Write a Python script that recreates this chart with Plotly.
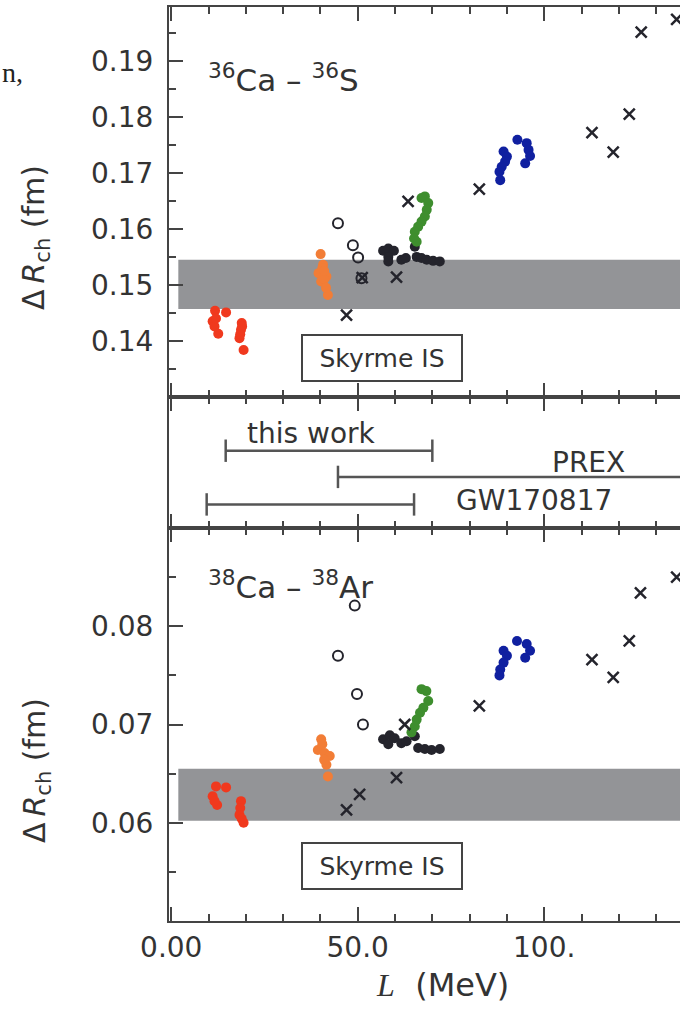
import plotly.graph_objects as go

# ---------------- data: top panel (36Ca - 36S) ----------------
top_red_L = [11.75, 14.7, 11.1, 11.6, 12.6, 12.0, 18.9, 18.7, 18.3, 19.4, 19.0, 18.5]
top_red_dR = [0.1454, 0.1451, 0.1435, 0.1426, 0.1413, 0.1440, 0.1432, 0.1420, 0.1405, 0.1384, 0.1426, 0.1412]
top_orange_L = [40.05, 40.7, 39.5, 41.6, 40.2, 42.0, 40.5, 41.0, 41.5, 41.0]
top_orange_dR = [0.1555, 0.1536, 0.1521, 0.1515, 0.1506, 0.1482, 0.1530, 0.1510, 0.1495, 0.1525]
top_open_L = [44.7, 48.7, 50.1, 51.0]
top_open_dR = [0.1610, 0.1571, 0.1549, 0.1512]
top_black_L = [56.8, 58.2, 59.7, 58.2, 58.2, 61.7, 62.9, 65.3, 65.8, 67.1, 68.5, 70.2, 72.0]
top_black_dR = [0.1561, 0.1565, 0.1561, 0.1550, 0.1542, 0.1545, 0.1548, 0.1568, 0.1550, 0.1548, 0.1545, 0.1543, 0.1542]
top_green_L = [68.0, 67.1, 68.9, 68.5, 68.0, 67.1, 66.2, 65.3, 65.1, 65.8]
top_green_dR = [0.1658, 0.1655, 0.1646, 0.1634, 0.1622, 0.1613, 0.1604, 0.1595, 0.1583, 0.1577]
top_blue_L = [89.1, 90.0, 89.5, 88.6, 88.0, 88.2, 92.8, 95.3, 95.8, 96.2, 94.9]
top_blue_dR = [0.1738, 0.1729, 0.1720, 0.1711, 0.1702, 0.1687, 0.1759, 0.1753, 0.1741, 0.1730, 0.1717]
top_cross_L = [47.0, 51.2, 60.4, 63.5, 82.6, 112.8, 118.5, 122.8, 126.0, 135.5]
top_cross_dR = [0.1446, 0.1513, 0.1514, 0.1649, 0.1671, 0.1772, 0.1737, 0.1805, 0.1951, 0.1974]
top_band = [0.1457, 0.1545]

# ---------------- data: bottom panel (38Ca - 38Ar) ----------------
bot_red_L = [12.0, 14.7, 11.1, 12.3, 11.6, 18.7, 18.5, 18.3, 19.4, 18.9]
bot_red_dR = [0.0637, 0.0636, 0.0627, 0.0618, 0.0622, 0.0622, 0.0615, 0.0608, 0.0600, 0.0604]
bot_orange_L = [40.2, 39.3, 41.1, 42.5, 41.6, 42.0, 40.5, 41.0]
bot_orange_dR = [0.0685, 0.0674, 0.0671, 0.0668, 0.0659, 0.0647, 0.0680, 0.0664]
bot_open_L = [49.2, 44.7, 49.8, 51.4]
bot_open_dR = [0.0821, 0.0770, 0.0731, 0.0700]
bot_black_L = [56.8, 58.6, 59.9, 58.2, 61.7, 63.1, 65.3, 66.2, 68.0, 69.8, 72.0]
bot_black_dR = [0.0685, 0.0689, 0.0686, 0.0680, 0.0681, 0.0683, 0.0688, 0.0676, 0.0675, 0.0674, 0.0675]
bot_green_L = [67.1, 68.4, 68.9, 67.6, 66.7, 65.8, 65.3, 64.4]
bot_green_dR = [0.0736, 0.0734, 0.0724, 0.0717, 0.0712, 0.0705, 0.0698, 0.0692]
bot_blue_L = [89.1, 90.0, 89.1, 88.2, 88.0, 92.7, 95.3, 96.2, 94.9]
bot_blue_dR = [0.0775, 0.0770, 0.0763, 0.0756, 0.0750, 0.0785, 0.0782, 0.0775, 0.0768]
bot_cross_L = [47.0, 50.5, 60.4, 62.6, 82.6, 112.8, 118.5, 122.8, 125.8, 135.5]
bot_cross_dR = [0.0613, 0.0629, 0.0646, 0.0700, 0.0719, 0.0766, 0.0748, 0.0785, 0.0834, 0.0850]
bot_band = [0.0602, 0.0655]
band_L_start = 1.9

# ---------------- data: middle panel (L constraints) ----------------
constraint_names = ["this work", "PREX", "GW170817"]
constraint_lo = [14.6, 44.7, 9.5]
constraint_hi = [70.0, 150.0, 65.1]
constraint_row = [0.59, 0.39, 0.18]
constraint_label_L = [37.5, 111.8, 97.2]
constraint_label_row = [0.72, 0.50, 0.21]

# ticks
x_tickvals = [0, 50, 100]
x_ticktext = ["0.00", "50.0", "100."]
top_tickvals = [0.14, 0.15, 0.16, 0.17, 0.18, 0.19]
top_ticktext = ["0.14", "0.15", "0.16", "0.17", "0.18", "0.19"]
bot_tickvals = [0.06, 0.07, 0.08]
bot_ticktext = ["0.06", "0.07", "0.08"]

C_RED = "#f0391e"
C_ORANGE = "#f27d36"
C_GREEN = "#3e8e2e"
C_BLUE = "#1020a0"
C_BLACK = "#24242c"
C_AXIS = "#444444"
C_TEXT = "#333333"
FONT = "DejaVu Sans"

W, H = 680, 1026
def px(x):
    return x / W
def py(y):
    return 1 - y / H

fig = go.Figure()

def add_panel(xa, ya, groups, crossL, crossR, openL, openR):
    for L, R, col in groups:
        fig.add_trace(go.Scatter(x=L, y=R, mode="markers", xaxis=xa, yaxis=ya,
                                 marker=dict(color=col, size=10, line=dict(width=0))))
    fig.add_trace(go.Scatter(x=openL, y=openR, mode="markers", xaxis=xa, yaxis=ya,
                             marker=dict(symbol="circle-open", color=C_BLACK, size=10,
                                         line=dict(width=2, color=C_BLACK))))
    fig.add_trace(go.Scatter(x=crossL, y=crossR, mode="markers", xaxis=xa, yaxis=ya,
                             marker=dict(symbol="x-thin-open", color=C_BLACK, size=11,
                                         line=dict(width=2.5, color="#333"))))

add_panel("x", "y",
          [(top_red_L, top_red_dR, C_RED), (top_orange_L, top_orange_dR, C_ORANGE),
           (top_black_L, top_black_dR, C_BLACK), (top_green_L, top_green_dR, C_GREEN),
           (top_blue_L, top_blue_dR, C_BLUE)],
          top_cross_L, top_cross_dR, top_open_L, top_open_dR)
add_panel("x3", "y3",
          [(bot_red_L, bot_red_dR, C_RED), (bot_orange_L, bot_orange_dR, C_ORANGE),
           (bot_black_L, bot_black_dR, C_BLACK), (bot_green_L, bot_green_dR, C_GREEN),
           (bot_blue_L, bot_blue_dR, C_BLUE)],
          bot_cross_L, bot_cross_dR, bot_open_L, bot_open_dR)

# middle panel constraint bars
for name, lo, hi, row, lx, ly in zip(constraint_names, constraint_lo, constraint_hi,
                                     constraint_row, constraint_label_L, constraint_label_row):
    fig.add_trace(go.Scatter(x=[lo, hi], y=[row, row], mode="lines+markers",
                             xaxis="x2", yaxis="y2",
                             line=dict(color="#555", width=2.5),
                             marker=dict(symbol="line-ns-open", size=16,
                                         line=dict(width=2.5, color="#555"))))
    fig.add_annotation(x=lx, y=ly, xref="x2", yref="y2", text=name, showarrow=False,
                       xanchor="center", yanchor="middle",
                       font=dict(family=FONT, size=28, color=C_TEXT))

# gray bands
fig.add_shape(type="rect", xref="x", yref="y", x0=band_L_start, x1=200,
              y0=top_band[0], y1=top_band[1], fillcolor="#939497", line=dict(width=0), layer="below")
fig.add_shape(type="rect", xref="x3", yref="y3", x0=band_L_start, x1=200,
              y0=bot_band[0], y1=bot_band[1], fillcolor="#939497", line=dict(width=0), layer="below")

x_range = [-0.6, 136.4]
x_dom = [169 / W, 1.0]
common = dict(showline=True, linecolor=C_AXIS, linewidth=2, ticks="inside", ticklen=14,
              tickwidth=2, tickcolor=C_AXIS, showgrid=False, zeroline=False, automargin=False,
              tickfont=dict(family=FONT, size=28, color=C_TEXT))
xminor = dict(tickmode="linear", tick0=0, dtick=10, ticks="inside", ticklen=7,
              tickwidth=2, tickcolor=C_AXIS)

fig.update_layout(
    width=W, height=H, margin=dict(l=0, r=0, t=0, b=0, autoexpand=False),
    paper_bgcolor="white", plot_bgcolor="white", showlegend=False,
    font=dict(family=FONT, color=C_TEXT),
    xaxis=dict(common, domain=x_dom, range=x_range, anchor="y", mirror="ticks",
               tickmode="array", tickvals=x_tickvals, ticktext=x_ticktext,
               showticklabels=False, minor=xminor),
    xaxis2=dict(common, domain=x_dom, range=x_range, anchor="y2", mirror="ticks",
                matches="x", tickmode="array", tickvals=x_tickvals, ticktext=x_ticktext,
                showticklabels=False, minor=xminor),
    xaxis3=dict(common, domain=x_dom, range=x_range, anchor="y3", mirror="ticks",
                matches="x", tickmode="array", tickvals=x_tickvals, ticktext=x_ticktext,
                showticklabels=True, ticklabelstandoff=0, minor=xminor),
    yaxis=dict(common, domain=[py(397), py(7)], range=[0.13, 0.1996], anchor="x",
               tickmode="array", tickvals=top_tickvals, ticktext=top_ticktext,
               ticklabelstandoff=8,
               minor=dict(tickmode="linear", tick0=0.13, dtick=0.005, ticks="inside",
                          ticklen=7, tickwidth=2, tickcolor=C_AXIS)),
    yaxis2=dict(domain=[py(528), py(397)], range=[0, 1], anchor="x2", showline=True,
                linecolor=C_AXIS, linewidth=2, showticklabels=False, ticks="",
                showgrid=False, zeroline=False, automargin=False),
    yaxis3=dict(common, domain=[py(921), py(528)], range=[0.05, 0.09], anchor="x3",
                tickmode="array", tickvals=bot_tickvals, ticktext=bot_ticktext,
                ticklabelstandoff=8,
                minor=dict(tickmode="linear", tick0=0.05, dtick=0.005, ticks="inside",
                           ticklen=7, tickwidth=2, tickcolor=C_AXIS)),
)

def note(x, y, text, size, family=FONT, color=C_TEXT, xanchor="center", **kw):
    fig.add_annotation(x=px(x), y=py(y), xref="paper", yref="paper", xanchor=xanchor,
                       yanchor="middle", showarrow=False, text=text,
                       font=dict(family=family, size=size, color=color), **kw)

# panel labels
note(206, 78, "<sup>36</sup>Ca \u2013 <sup>36</sup>S", 31, xanchor="left")
note(206, 585, "<sup>38</sup>Ca \u2013 <sup>38</sup>Ar", 31, xanchor="left")

# Skyrme IS boxes
for cy in (358.5, 865.5):
    note(382, cy, "Skyrme IS", 25, width=154, height=40, borderpad=2,
         bordercolor=C_AXIS, borderwidth=2, bgcolor="white")

# y-axis titles
for cy in (238, 771):
    note(36, cy, "\u0394\u2009<i>R</i><sub>ch</sub> (fm)", 30, textangle=-90)

# x-axis title
note(442, 985, "<span style=\"font-family:Liberation Serif\"><i>L</i></span>  (MeV)", 32)

# stray text fragment at top-left
note(25, 72, "n,", 28, family="Liberation Serif", color="#222", xanchor="right")

fig.write_html("out.html")
